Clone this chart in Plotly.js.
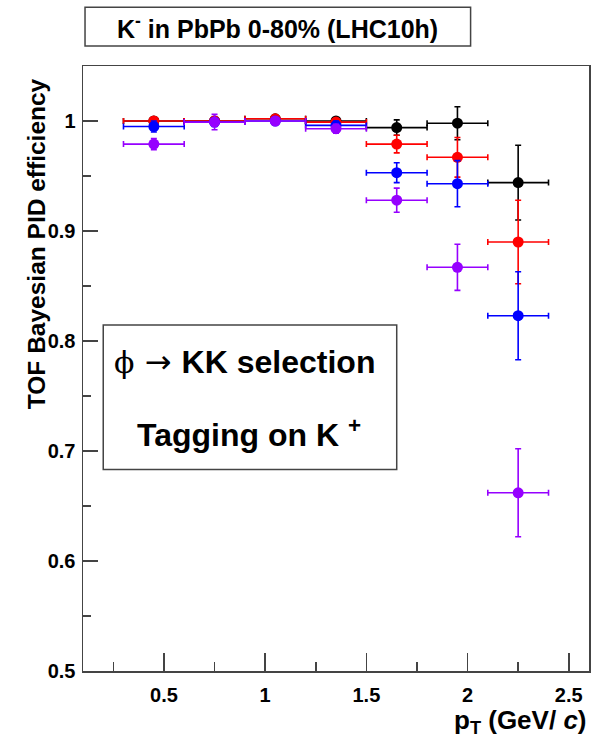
<!DOCTYPE html>
<html>
<head>
<meta charset="utf-8">
<script src="https://cdn.plot.ly/plotly-3.0.1.min.js"></script>
<style>html,body{margin:0;padding:0;background:#fff;}#chart{width:591px;height:748px;}</style>
</head>
<body>
<div id="chart"></div>
<script>
const pt = [0.45, 0.75, 1.05, 1.35, 1.65, 1.95, 2.25];
const ptErr = [0.15, 0.15, 0.15, 0.15, 0.15, 0.15, 0.15];

const blackVal = [1.000, 1.000, 1.002, 1.000, 0.994, 0.998, 0.944];
const blackErr = [0.002, 0.003, 0.002, 0.002, 0.007, 0.015, 0.034];
const redVal = [1.000, 1.000, 1.002, 0.999, 0.979, 0.967, 0.890];
const redErr = [0.002, 0.003, 0.002, 0.003, 0.008, 0.018, 0.038];
const blueVal = [0.995, 0.999, 1.000, 0.996, 0.953, 0.943, 0.823];
const blueErr = [0.005, 0.004, 0.003, 0.004, 0.009, 0.021, 0.040];
const purpleVal = [0.979, 0.999, 1.000, 0.993, 0.928, 0.867, 0.662];
const purpleErr = [0.005, 0.007, 0.003, 0.004, 0.011, 0.021, 0.040];

const xTickVals = [0.5, 1, 1.5, 2, 2.5];
const xTickText = ['0.5', '1', '1.5', '2', '2.5'];
const yTickVals = [0.5, 0.6, 0.7, 0.8, 0.9, 1];
const yTickText = ['0.5', '0.6', '0.7', '0.8', '0.9', '1'];

function series(y, err, color) {
  return {
    x: pt, y: y, type: 'scatter', mode: 'markers',
    marker: {color: color, size: 11, line: {width: 0}},
    error_x: {type: 'data', array: ptErr, color: color, thickness: 1.6, width: 3},
    error_y: {type: 'data', array: err, color: color, thickness: 1.6, width: 3},
    showlegend: false, hoverinfo: 'skip'
  };
}

const data = [
  series(blackVal, blackErr, '#000000'),
  series(redVal, redErr, '#ff0000'),
  series(blueVal, blueErr, '#0000ff'),
  series(purpleVal, purpleErr, '#9600ff')
];

const fontFam = 'Liberation Sans, Arial, sans-serif';
const frameCol = '#444444';

const layout = {
  width: 591, height: 748,
  margin: {l: 83, r: 2, t: 66, b: 77},
  paper_bgcolor: '#ffffff', plot_bgcolor: '#ffffff',
  font: {family: fontFam, color: '#000'},
  xaxis: {
    range: [0.1, 2.6], showgrid: false, zeroline: false,
    showline: true, mirror: true, linecolor: frameCol, linewidth: 1.5,
    ticks: 'inside', ticklen: 18, tickwidth: 1.5, tickcolor: frameCol,
    tickmode: 'array', tickvals: xTickVals, ticktext: xTickText,
    tickfont: {family: fontFam, size: 20, weight: 'bold', color: '#000'},
    ticklabelstandoff: 5,
    minor: {dtick: 0.25, tick0: 0, ticks: 'inside', ticklen: 9, tickwidth: 1.5, tickcolor: frameCol, showgrid: false}
  },
  yaxis: {
    range: [0.5, 1.05], showgrid: false, zeroline: false,
    showline: true, mirror: true, linecolor: frameCol, linewidth: 1.5,
    ticks: 'inside', ticklen: 15, tickwidth: 1.5, tickcolor: frameCol,
    tickmode: 'array', tickvals: yTickVals, ticktext: yTickText,
    tickfont: {family: fontFam, size: 20, weight: 'bold', color: '#000'},
    ticklabelstandoff: 2,
    minor: {dtick: 0.05, tick0: 0, ticks: 'inside', ticklen: 8, tickwidth: 1.5, tickcolor: frameCol, showgrid: false}
  },
  shapes: [
    {type: 'rect', xref: 'paper', yref: 'paper', x0: 0.004, x1: 0.766, y0: 1.033, y1: 1.097,
     line: {color: frameCol, width: 1.5}, fillcolor: 'rgba(0,0,0,0)'},
    {type: 'rect', xref: 'paper', yref: 'paper', x0: 0.040, x1: 0.620, y0: 0.333, y1: 0.572,
     line: {color: frameCol, width: 1.5}, fillcolor: '#ffffff'}
  ],
  annotations: [
    {xref: 'paper', yref: 'paper', x: 0.385, y: 1.065, xanchor: 'center', yanchor: 'middle',
     text: 'K<sup>-</sup> in PbPb 0-80% (LHC10h)', showarrow: false,
     font: {family: fontFam, size: 25, weight: 'bold', color: '#000'}},
    {xref: 'paper', yref: 'paper', x: 0.058, y: 0.511, xanchor: 'left', yanchor: 'middle',
     text: '<span style="font-family:\'DejaVu Serif\',serif;font-weight:normal;font-size:30px">\u03d5</span><span style="font-family:\'DejaVu Sans\',sans-serif;font-weight:normal;font-size:32px"> \u2192 </span>KK selection', showarrow: false,
     font: {family: fontFam, size: 32, weight: 'bold', color: '#000'}},
    {xref: 'paper', yref: 'paper', x: 0.328, y: 0.393, xanchor: 'center', yanchor: 'middle',
     text: 'Tagging on K <sup>+</sup>', showarrow: false,
     font: {family: fontFam, size: 32, weight: 'bold', color: '#000'}},
    {xref: 'paper', yref: 'paper', x: 1.0, y: -0.084, xanchor: 'right', yanchor: 'middle',
     text: 'p<sub>T</sub> (GeV/ <i>c</i>)', showarrow: false,
     font: {family: fontFam, size: 26, weight: 'bold', color: '#000'}},
    {xref: 'paper', yref: 'paper', x: -0.093, y: 0.707, xanchor: 'center', yanchor: 'middle',
     text: 'TOF Bayesian PID efficiency', textangle: -90, showarrow: false,
     font: {family: fontFam, size: 24.5, weight: 'bold', color: '#000'}}
  ]
};

Plotly.newPlot('chart', data, layout, {staticPlot: true, displayModeBar: false});
</script>
</body>
</html>
